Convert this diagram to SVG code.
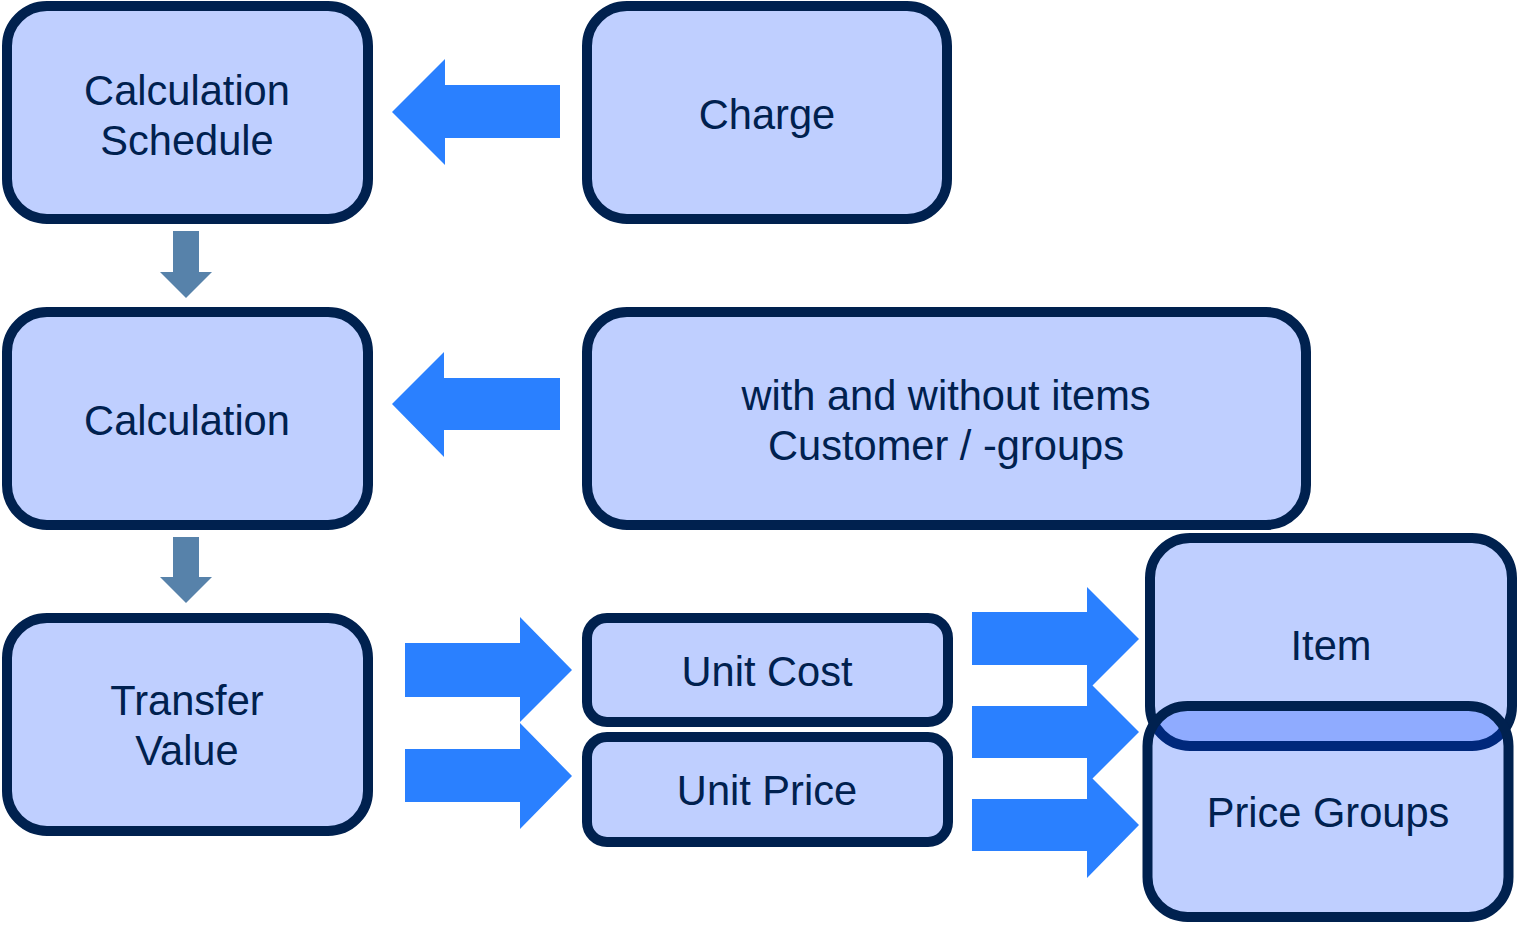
<svg xmlns="http://www.w3.org/2000/svg" width="1519" height="925" viewBox="0 0 1519 925">
<style>
.box{fill:rgba(0,63,255,0.25);stroke:#00214F;stroke-width:10}
.lbl{font-family:"Liberation Sans",Arial,sans-serif;font-size:41.6px;fill:#00214F;text-anchor:middle}
.blue{fill:#2A80FF}
.steel{fill:#5782AA}
</style>
<rect width="1519" height="925" fill="#FFFFFF"/>
<g id="connectors">
<polygon class="blue" points="392,112 445,59 445,85 560,85 560,138 445,138 445,165"/>
<polygon class="blue" points="392,404 444,352 444,378 560,378 560,430 444,430 444,457"/>
<polygon class="steel" points="173,231 199,231 199,272 212,272 186,298 160,272 173,272"/>
<polygon class="steel" points="173,537 199,537 199,577 212,577 186,603 160,577 173,577"/>
<polygon class="blue" points="405,643 520,643 520,617 572,670 520,722 520,697 405,697"/>
<polygon class="blue" points="405,749 520,749 520,723 572,776 520,829 520,802 405,802"/>
<polygon class="blue" points="972,612 1087,612 1087,587 1139,639 1087,691 1087,665 972,665"/>
<polygon class="blue" points="972,706 1087,706 1087,680 1139,732 1087,784 1087,758 972,758"/>
<polygon class="blue" points="972,799 1087,799 1087,773 1139,825 1087,878 1087,851 972,851"/>
</g>
<g id="calc-schedule">
<rect class="box" x="7" y="6" width="361" height="213" rx="40"/>
<text class="lbl" x="187" y="105">Calculation</text>
<text class="lbl" x="187" y="155">Schedule</text>
</g>
<g id="charge">
<rect class="box" x="587" y="6" width="360" height="213" rx="40"/>
<text class="lbl" x="767" y="129">Charge</text>
</g>
<g id="calculation">
<rect class="box" x="7" y="312" width="361" height="213" rx="40"/>
<text class="lbl" x="187" y="435">Calculation</text>
</g>
<g id="with-without">
<rect class="box" x="587" y="312" width="719" height="213" rx="40"/>
<text class="lbl" x="946" y="410">with and without items</text>
<text class="lbl" x="946" y="460">Customer / -groups</text>
</g>
<g id="transfer-value">
<rect class="box" x="7" y="618" width="361" height="213" rx="40"/>
<text class="lbl" x="187" y="715">Transfer</text>
<text class="lbl" x="187" y="765">Value</text>
</g>
<g id="unit-cost">
<rect class="box" x="587" y="618" width="361" height="104" rx="20"/>
<text class="lbl" x="767" y="686">Unit Cost</text>
</g>
<g id="unit-price">
<rect class="box" x="587" y="737" width="361" height="105" rx="20"/>
<text class="lbl" x="767" y="805">Unit Price</text>
</g>
<g id="item">
<rect class="box" x="1150" y="538" width="362" height="208" rx="40"/>
<text class="lbl" x="1331" y="660">Item</text>
</g>
<g id="price-groups">
<rect class="box" x="1147.5" y="706" width="361" height="211" rx="40"/>
<text class="lbl" x="1328" y="827">Price Groups</text>
</g>
</svg>
